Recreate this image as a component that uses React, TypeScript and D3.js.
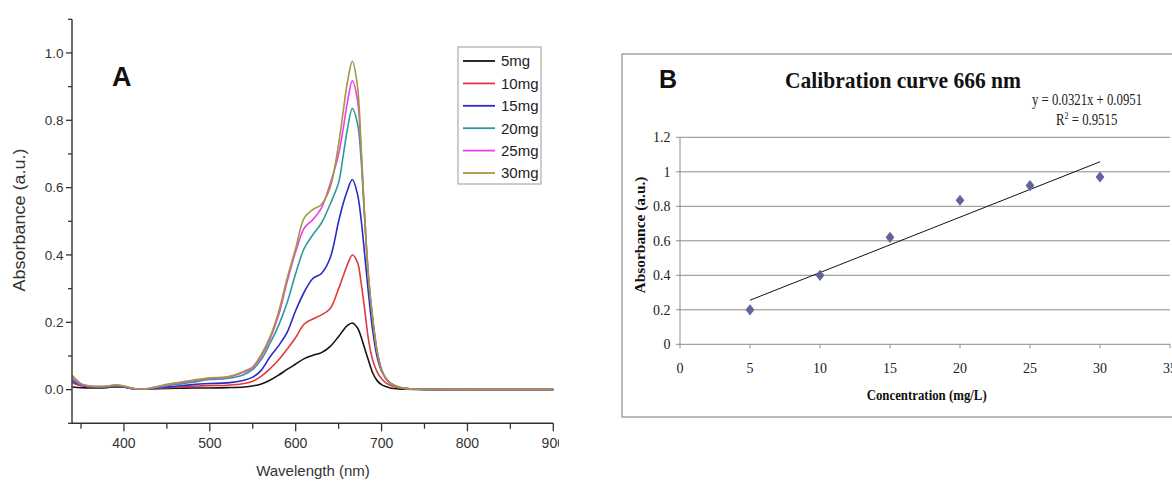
import React from "react";
import * as d3 from "d3";

// ---------- Panel A: UV-Vis spectra ----------
const wavelengths = [
  340, 350, 360, 370, 380, 390, 400, 410, 420, 430, 440,
  460, 480, 500, 520, 540, 550, 560,
  570, 580, 590, 600, 610, 620, 630, 640, 650,
  655, 660, 666, 672, 676, 680, 685, 690, 695, 700, 705, 710,
  720, 730, 750, 800, 850, 900,
];

const abs5mg = [
  0.008, 0.006, 0.005, 0.005, 0.006, 0.008, 0.007, 0.003, 0.002, 0.002, 0.003,
  0.004, 0.005, 0.005, 0.006, 0.008, 0.011, 0.017,
  0.028, 0.043, 0.06, 0.076, 0.092, 0.102, 0.11, 0.128, 0.158,
  0.175, 0.19, 0.198, 0.183, 0.158, 0.125, 0.085, 0.048, 0.026, 0.015, 0.009, 0.005,
  0.002, 0.001, 0, 0, 0, 0,
];
const abs10mg = [
  0.02, 0.012, 0.008, 0.007, 0.008, 0.01, 0.008, 0.003, 0.001, 0.002, 0.004,
  0.007, 0.01, 0.012, 0.013, 0.018, 0.025, 0.04,
  0.062, 0.088, 0.12, 0.155, 0.195, 0.21, 0.222, 0.24, 0.3,
  0.335, 0.37, 0.4, 0.378, 0.32, 0.245, 0.145, 0.085, 0.052, 0.032, 0.02, 0.013,
  0.005, 0.002, 0.001, 0, 0, 0,
];
const abs15mg = [
  0.025, 0.014, 0.009, 0.008, 0.008, 0.011, 0.008, 0.003, 0.001, 0.002, 0.005,
  0.01, 0.015, 0.018, 0.02, 0.028, 0.037, 0.058,
  0.097, 0.13, 0.17, 0.235, 0.29, 0.33, 0.345, 0.39, 0.5,
  0.55, 0.59, 0.624, 0.58, 0.51, 0.41, 0.28, 0.17, 0.095, 0.055, 0.034, 0.02,
  0.007, 0.003, 0.001, 0, 0, 0,
];
const abs20mg = [
  0.03, 0.015, 0.01, 0.008, 0.009, 0.012, 0.009, 0.003, 0.001, 0.003, 0.007,
  0.015, 0.022, 0.03, 0.033, 0.045, 0.06, 0.09,
  0.137, 0.19, 0.258, 0.345, 0.42, 0.46, 0.495, 0.55, 0.615,
  0.69, 0.77, 0.835, 0.79, 0.69, 0.52, 0.32, 0.2, 0.11, 0.058, 0.032, 0.018,
  0.007, 0.003, 0.001, 0, 0, 0,
];
const abs25mg = [
  0.035, 0.016, 0.01, 0.009, 0.01, 0.013, 0.01, 0.003, 0.001, 0.004, 0.009,
  0.018, 0.026, 0.033, 0.036, 0.052, 0.065, 0.1,
  0.15, 0.22, 0.32, 0.41, 0.48, 0.505, 0.54, 0.61, 0.7,
  0.77, 0.85, 0.917, 0.86, 0.72, 0.53, 0.33, 0.205, 0.112, 0.06, 0.033, 0.019,
  0.008, 0.003, 0.001, 0, 0, 0,
];
const abs30mg = [
  0.042, 0.018, 0.011, 0.01, 0.01, 0.014, 0.011, 0.004, 0.001, 0.004, 0.01,
  0.02, 0.028, 0.035, 0.038, 0.055, 0.068, 0.105,
  0.156, 0.23, 0.33, 0.42, 0.51, 0.535, 0.55, 0.6, 0.73,
  0.82, 0.91, 0.975, 0.9, 0.73, 0.53, 0.33, 0.205, 0.112, 0.06, 0.033, 0.019,
  0.008, 0.003, 0.001, 0, 0, 0,
];

const spectraLabels = ["5mg", "10mg", "15mg", "20mg", "25mg", "30mg"];
const spectraValues = [abs5mg, abs10mg, abs15mg, abs20mg, abs25mg, abs30mg];

const yTicksA = [0, 0.2, 0.4, 0.6, 0.8, 1.0];
const yMinorTicksA = [-0.1, 0.1, 0.3, 0.5, 0.7, 0.9, 1.1];
const xTicksA = [400, 500, 600, 700, 800, 900];
const xMinorTicksA = [350, 450, 550, 650, 750, 850];

// ---------- Panel B: calibration ----------
const concentrations = [5, 10, 15, 20, 25, 30];
const absorbance666 = [0.2, 0.4, 0.62, 0.835, 0.92, 0.97];
const fitSlope = 0.0321;
const fitIntercept = 0.0951;
const fitRange = [5, 30];
const xTicksB = [0, 5, 10, 15, 20, 25, 30, 35];
const yTicksB = [0, 0.2, 0.4, 0.6, 0.8, 1, 1.2];

// styles
const spectraColors = ["#141414", "#e2393c", "#2a2ac4", "#2f9a9a", "#f03cf0", "#9f9a3e"];
const sansFont = "'Liberation Sans', Arial, sans-serif";
const serifFont = "'Liberation Serif', 'Times New Roman', serif";

export default function App() {
  // Panel A scales
  const xA = d3.scaleLinear().domain([339.5, 900]).range([72, 553.3]);
  const yA = d3.scaleLinear().domain([-0.1, 1.1]).range([423.3, 19.3]);
  const lineA = d3
    .line<number>()
    .x((_, i) => xA(wavelengths[i]))
    .y((d) => yA(d))
    .curve(d3.curveCatmullRom.alpha(0.5));
  const axisColor = "#333";
  const fmtA = d3.format(".1f");

  // Panel B scales
  const xB = d3.scaleLinear().domain([0, 35]).range([680, 1170]);
  const yB = d3.scaleLinear().domain([0, 1.2]).range([344.3, 137.3]);
  const gridColor = "#8c8c8c";
  const diamond = "M0,-5.6L4.4,0L0,5.6L-4.4,0Z";
  const fmtB = (v: number) => (v === 0 || v === 1 ? String(v) : d3.format(".1f")(v));

  const legendX = 458;
  const legendY = 47;
  const legendStep = 22.4;

  return (
    <svg
      width={1172}
      height={481}
      style={{ position: "absolute", left: 0, top: 0, background: "#fff" }}
    >
      <defs>
        <clipPath id="clipA">
          <rect x={0} y={0} width={559} height={481} />
        </clipPath>
      </defs>
      <rect x={0} y={0} width={1172} height={481} fill="#fff" />

      {/* ================= Panel A ================= */}
      <g clipPath="url(#clipA)" fontFamily={sansFont}>
        {spectraValues.map((vals, i) => (
          <path
            key={spectraLabels[i]}
            d={lineA(vals) as string}
            fill="none"
            stroke={spectraColors[i]}
            strokeWidth={1.6}
          />
        ))}

        {/* y axis */}
        <line x1={xA(339.5)} x2={xA(339.5)} y1={yA(1.1)} y2={yA(-0.1)} stroke={axisColor} strokeWidth={1.4} />
        {yTicksA.map((t) => (
          <g key={"ya" + t}>
            <line x1={66} x2={72} y1={yA(t)} y2={yA(t)} stroke={axisColor} strokeWidth={1.3} />
            <text x={63.5} y={yA(t)} dy="0.36em" textAnchor="end" fontSize={13.5} fill="#333">
              {fmtA(t)}
            </text>
          </g>
        ))}
        {yMinorTicksA.map((t) => (
          <line key={"yam" + t} x1={68} x2={72} y1={yA(t)} y2={yA(t)} stroke={axisColor} strokeWidth={1.3} />
        ))}

        {/* x axis */}
        <line x1={xA(339.5)} x2={xA(900)} y1={yA(-0.1)} y2={yA(-0.1)} stroke={axisColor} strokeWidth={1.4} />
        {xTicksA.map((t) => (
          <g key={"xa" + t}>
            <line x1={xA(t)} x2={xA(t)} y1={yA(-0.1)} y2={yA(-0.1) + 8} stroke={axisColor} strokeWidth={1.3} />
            <text x={xA(t)} y={448.3} textAnchor="middle" fontSize={14} fill="#333">
              {t}
            </text>
          </g>
        ))}
        {xMinorTicksA.map((t) => (
          <line key={"xam" + t} x1={xA(t)} x2={xA(t)} y1={yA(-0.1)} y2={yA(-0.1) + 5.5} stroke={axisColor} strokeWidth={1.3} />
        ))}

        {/* axis titles */}
        <text x={313} y={475.5} textAnchor="middle" fontSize={15} fill="#333">
          Wavelength (nm)
        </text>
        <text
          transform={`translate(25,220) rotate(-90)`}
          textAnchor="middle"
          fontSize={16.5}
          fill="#333"
          textLength={143}
          lengthAdjust="spacingAndGlyphs"
        >
          Absorbance (a.u.)
        </text>

        {/* panel letter */}
        <text x={112} y={85.5} fontSize={27} fontWeight="bold" fill="#111">
          A
        </text>

        {/* legend */}
        <rect x={legendX} y={legendY} width={83} height={137} fill="#fff" stroke="#9a9a9a" strokeWidth={1} />
        {spectraLabels.map((lab, i) => {
          const cy = legendY + 14 + i * legendStep;
          return (
            <g key={"lg" + lab}>
              <line x1={463} x2={495} y1={cy} y2={cy} stroke={spectraColors[i]} strokeWidth={1.8} />
              <text x={501} y={cy} dy="0.36em" fontSize={15} fill="#222">
                {lab}
              </text>
            </g>
          );
        })}
      </g>

      {/* ================= Panel B ================= */}
      <g fontFamily={serifFont}>
        <rect x={622} y={54} width={560} height={363} fill="#fff" stroke="#a3a3a3" strokeWidth={1.5} />

        {yTicksB.map((t) => (
          <line key={"gb" + t} x1={xB(0)} x2={xB(35)} y1={yB(t)} y2={yB(t)} stroke={gridColor} strokeWidth={1} />
        ))}
        <line x1={xB(0)} x2={xB(0)} y1={yB(1.2)} y2={yB(0)} stroke={gridColor} strokeWidth={1} />
        {yTicksB.map((t) => (
          <g key={"yb" + t}>
            <line x1={xB(0) - 4} x2={xB(0)} y1={yB(t)} y2={yB(t)} stroke={gridColor} strokeWidth={1} />
            <text x={670.5} y={yB(t)} dy="0.35em" textAnchor="end" fontSize={14} fill="#222">
              {fmtB(t)}
            </text>
          </g>
        ))}
        {xTicksB.map((t) => (
          <g key={"xb" + t}>
            <line x1={xB(t)} x2={xB(t)} y1={yB(0)} y2={yB(0) + 4} stroke={gridColor} strokeWidth={1} />
            <text x={xB(t)} y={373} textAnchor="middle" fontSize={14} fill="#222">
              {t}
            </text>
          </g>
        ))}

        <line
          x1={xB(fitRange[0])}
          y1={yB(fitSlope * fitRange[0] + fitIntercept)}
          x2={xB(fitRange[1])}
          y2={yB(fitSlope * fitRange[1] + fitIntercept)}
          stroke="#111"
          strokeWidth={1}
        />

        {concentrations.map((c, i) => (
          <path
            key={"pt" + c}
            d={diamond}
            transform={`translate(${xB(c)},${yB(absorbance666[i])})`}
            fill="#61649e"
          />
        ))}

        <text x={659} y={88} fontSize={25} fontWeight="bold" fill="#111" fontFamily={sansFont}>
          B
        </text>
        <text
          x={785}
          y={88}
          fontSize={24}
          fontWeight="bold"
          fill="#111"
          textLength={236}
          lengthAdjust="spacingAndGlyphs"
        >
          Calibration curve 666 nm
        </text>
        <text
          x={1032}
          y={105}
          fontSize={16}
          fill="#222"
          textLength={110}
          lengthAdjust="spacingAndGlyphs"
        >
          {`y = ${fitSlope}x + ${fitIntercept}`}
        </text>
        <g transform="translate(1056,125) scale(0.8,1)">
          <text x={0} y={0} fontSize={16} fill="#222">
            R
            <tspan dy={-6} fontSize={10}>
              2
            </tspan>
            <tspan dy={6}> = 0.9515</tspan>
          </text>
        </g>

        <text
          x={926.7}
          y={400}
          textAnchor="middle"
          fontSize={14}
          fontWeight="bold"
          fill="#111"
          textLength={120}
          lengthAdjust="spacingAndGlyphs"
        >
          Concentration (mg/L)
        </text>
        <text
          transform="translate(645,235) rotate(-90)"
          textAnchor="middle"
          fontSize={15}
          fontWeight="bold"
          fill="#111"
          textLength={117}
          lengthAdjust="spacingAndGlyphs"
        >
          Absorbance (a.u.)
        </text>
      </g>
    </svg>
  );
}
